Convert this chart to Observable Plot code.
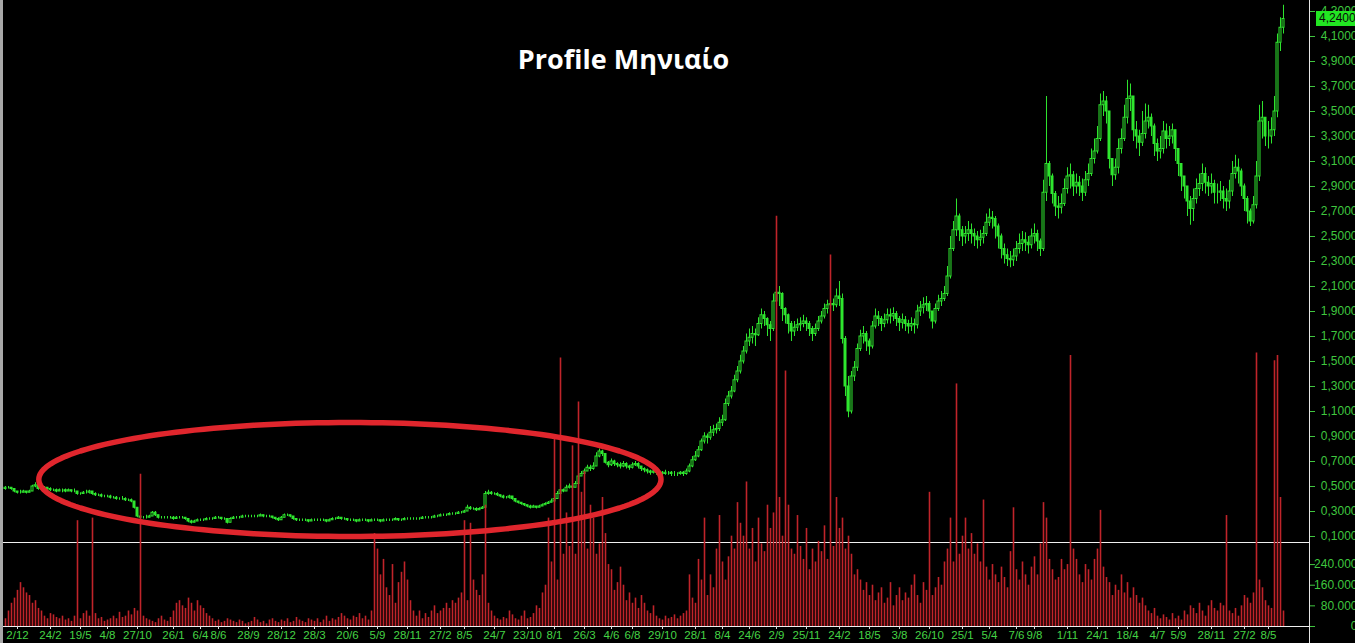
<!DOCTYPE html>
<html><head><meta charset="utf-8">
<script src="https://cdn.jsdelivr.net/npm/d3@7"></script>
<script src="https://cdn.jsdelivr.net/npm/@observablehq/plot@0.6"></script>
<style>
html,body{margin:0;padding:0;background:#000;overflow:hidden}
#wrap{position:relative;width:1355px;height:643px;background:#000;overflow:hidden}
#wrap .layer{position:absolute;left:0;top:0;width:1355px;height:643px}
#wrap svg{display:block;max-width:none}
#vline{position:absolute;left:1309px;top:0;width:1px;height:643px;background:#e6e6e6}
#lstrip{position:absolute;left:0;top:0;width:3px;height:643px;background:#a8a8a8}
#last{position:absolute;left:1316px;width:45px;height:15px;background:#22e622;color:#0a0a0a;font:12px "Liberation Sans",Arial,sans-serif;line-height:15px;padding-left:3px;box-sizing:border-box}
</style></head>
<body><div id="wrap"></div>
<script>
// ---- data (weekly candles, price in EUR; volume in thousands of shares) ----
const title = "Profile Μηνιαίο";
const firstOpen = 0.48;
const close = [
0.49,0.49,0.48,0.46,0.45,0.45,0.46,0.45,0.46,0.50,
0.51,0.48,0.48,0.49,0.48,0.47,0.47,0.46,0.47,0.47,
0.46,0.47,0.46,0.46,0.44,0.44,0.45,0.45,0.46,0.44,
0.43,0.43,0.42,0.42,0.42,0.41,0.41,0.40,0.40,0.40,
0.39,0.39,0.38,0.33,0.26,0.25,0.25,0.25,0.26,0.29,
0.27,0.25,0.25,0.25,0.25,0.25,0.24,0.25,0.25,0.25,
0.24,0.22,0.21,0.22,0.23,0.23,0.23,0.24,0.24,0.24,
0.25,0.25,0.24,0.24,0.21,0.24,0.25,0.25,0.25,0.26,
0.26,0.26,0.26,0.26,0.26,0.27,0.26,0.26,0.26,0.25,
0.24,0.23,0.25,0.27,0.27,0.26,0.24,0.23,0.23,0.23,
0.23,0.22,0.23,0.23,0.23,0.23,0.23,0.22,0.23,0.24,
0.24,0.25,0.24,0.24,0.23,0.23,0.23,0.22,0.23,0.23,
0.23,0.22,0.23,0.23,0.23,0.22,0.23,0.23,0.23,0.23,
0.24,0.23,0.23,0.24,0.24,0.24,0.24,0.24,0.24,0.25,
0.25,0.25,0.25,0.26,0.26,0.27,0.27,0.27,0.28,0.28,
0.28,0.29,0.29,0.30,0.33,0.32,0.32,0.31,0.32,0.33,
0.44,0.45,0.44,0.44,0.43,0.42,0.41,0.41,0.42,0.40,
0.38,0.37,0.36,0.35,0.34,0.33,0.34,0.33,0.34,0.35,
0.36,0.37,0.38,0.40,0.44,0.47,0.46,0.49,0.50,0.49,
0.52,0.58,0.60,0.62,0.65,0.64,0.66,0.74,0.78,0.76,
0.69,0.67,0.70,0.68,0.67,0.66,0.68,0.66,0.65,0.67,
0.68,0.66,0.64,0.63,0.62,0.61,0.62,0.61,0.61,0.60,
0.61,0.61,0.60,0.60,0.60,0.61,0.60,0.62,0.66,0.71,
0.74,0.79,0.86,0.90,0.89,0.93,0.95,0.96,1.01,1.03,
1.16,1.22,1.26,1.35,1.42,1.50,1.58,1.66,1.69,1.72,
1.71,1.80,1.87,1.84,1.79,1.76,1.98,2.05,2.04,1.92,
1.87,1.80,1.74,1.77,1.79,1.80,1.82,1.80,1.76,1.72,
1.76,1.82,1.86,1.92,1.95,1.96,1.95,2.02,2.00,1.68,
1.30,1.10,1.38,1.45,1.60,1.70,1.72,1.66,1.62,1.78,
1.86,1.84,1.80,1.83,1.87,1.86,1.88,1.84,1.81,1.83,
1.80,1.78,1.80,1.79,1.90,1.93,1.95,1.96,1.90,1.82,
1.92,1.98,2.00,2.04,2.18,2.40,2.55,2.66,2.55,2.50,
2.52,2.55,2.52,2.50,2.47,2.49,2.52,2.61,2.65,2.64,
2.58,2.50,2.40,2.35,2.32,2.31,2.34,2.40,2.44,2.47,
2.45,2.43,2.50,2.52,2.46,2.40,2.85,3.08,2.98,2.84,
2.74,2.73,2.76,2.88,2.98,2.99,2.90,2.93,2.90,2.85,
2.95,3.00,3.12,3.18,3.28,3.55,3.58,3.50,3.12,2.99,
3.05,3.20,3.28,3.45,3.60,3.62,3.35,3.30,3.25,3.32,
3.42,3.45,3.38,3.24,3.18,3.20,3.34,3.28,3.30,3.35,
3.20,3.08,2.98,2.90,2.78,2.72,2.80,2.88,2.92,3.00,
2.93,2.90,2.92,2.85,2.85,2.86,2.80,2.78,2.86,3.00,
3.05,3.02,2.90,2.80,2.70,2.62,2.75,2.98,3.42,3.45,
3.30,3.30,3.35,3.50,4.05,4.17,4.24];
const high = [
0.50,0.50,0.49,0.48,0.46,0.47,0.47,0.46,0.47,0.51,
0.53,0.51,0.49,0.50,0.49,0.49,0.48,0.48,0.48,0.48,
0.48,0.48,0.47,0.48,0.46,0.45,0.46,0.47,0.47,0.46,
0.45,0.44,0.44,0.43,0.43,0.43,0.42,0.42,0.41,0.42,
0.41,0.40,0.40,0.38,0.33,0.27,0.26,0.27,0.27,0.30,
0.30,0.27,0.26,0.26,0.26,0.26,0.26,0.26,0.26,0.26,
0.25,0.24,0.23,0.23,0.24,0.24,0.24,0.25,0.25,0.25,
0.26,0.26,0.25,0.25,0.24,0.25,0.26,0.26,0.26,0.27,
0.27,0.27,0.27,0.27,0.27,0.28,0.27,0.27,0.27,0.26,
0.25,0.25,0.26,0.28,0.28,0.27,0.26,0.24,0.24,0.24,
0.24,0.23,0.24,0.24,0.24,0.24,0.24,0.23,0.24,0.25,
0.25,0.26,0.25,0.25,0.24,0.24,0.24,0.23,0.24,0.24,
0.24,0.23,0.24,0.24,0.24,0.23,0.24,0.24,0.24,0.24,
0.25,0.24,0.24,0.25,0.25,0.25,0.25,0.25,0.25,0.26,
0.26,0.26,0.26,0.27,0.27,0.28,0.28,0.28,0.29,0.29,
0.29,0.30,0.30,0.31,0.35,0.34,0.33,0.33,0.33,0.34,
0.46,0.47,0.46,0.45,0.45,0.43,0.43,0.42,0.43,0.42,
0.40,0.38,0.37,0.36,0.35,0.35,0.35,0.34,0.35,0.36,
0.37,0.38,0.40,0.42,0.46,0.48,0.48,0.51,0.52,0.51,
0.54,0.60,0.62,0.64,0.67,0.67,0.69,0.77,0.80,0.79,
0.75,0.70,0.72,0.71,0.69,0.69,0.70,0.69,0.67,0.69,
0.70,0.69,0.66,0.65,0.64,0.63,0.64,0.63,0.62,0.62,
0.63,0.62,0.62,0.62,0.61,0.62,0.62,0.64,0.68,0.74,
0.78,0.82,0.88,0.93,0.92,0.98,0.99,1.00,1.05,1.07,
1.20,1.26,1.30,1.39,1.46,1.55,1.62,1.72,1.76,1.78,
1.76,1.85,1.92,1.90,1.85,1.82,2.04,2.12,2.10,2.05,
1.93,1.88,1.82,1.82,1.84,1.85,1.87,1.85,1.82,1.78,
1.80,1.86,1.90,1.96,1.99,2.02,2.00,2.08,2.14,2.04,
1.70,1.38,1.42,1.50,1.64,1.75,1.78,1.74,1.68,1.82,
1.92,1.90,1.86,1.88,1.92,1.92,1.93,1.90,1.86,1.88,
1.86,1.83,1.85,1.84,1.95,1.98,2.01,2.02,1.98,1.90,
1.96,2.03,2.06,2.10,2.26,2.50,2.62,2.80,2.68,2.58,
2.58,2.62,2.60,2.56,2.54,2.55,2.58,2.68,2.72,2.70,
2.66,2.60,2.52,2.44,2.40,2.38,2.40,2.46,2.52,2.54,
2.53,2.50,2.56,2.60,2.55,2.48,2.95,3.62,3.10,3.00,
2.86,2.82,2.84,2.96,3.05,3.08,3.02,3.00,2.98,2.96,
3.02,3.08,3.20,3.28,3.38,3.64,3.66,3.62,3.50,3.10,
3.12,3.28,3.36,3.55,3.75,3.72,3.62,3.42,3.35,3.50,
3.56,3.55,3.48,3.40,3.28,3.30,3.42,3.40,3.38,3.40,
3.30,3.16,3.06,2.98,2.88,2.82,2.88,2.96,3.00,3.08,
3.05,2.98,3.00,2.95,2.92,2.94,2.90,2.88,2.95,3.10,
3.15,3.12,3.04,2.92,2.82,2.72,2.82,3.10,3.55,3.58,
3.44,3.42,3.45,3.62,4.12,4.25,4.35];
const low = [
0.47,0.48,0.47,0.45,0.44,0.44,0.45,0.44,0.45,0.46,
0.49,0.47,0.47,0.47,0.47,0.46,0.46,0.45,0.46,0.45,
0.45,0.46,0.45,0.45,0.43,0.43,0.44,0.44,0.44,0.43,
0.42,0.42,0.41,0.41,0.41,0.40,0.40,0.39,0.39,0.39,
0.38,0.38,0.37,0.32,0.25,0.24,0.24,0.24,0.25,0.26,
0.26,0.24,0.24,0.24,0.24,0.24,0.23,0.24,0.24,0.24,
0.23,0.21,0.20,0.21,0.22,0.22,0.22,0.23,0.23,0.23,
0.24,0.24,0.23,0.23,0.20,0.21,0.24,0.24,0.24,0.25,
0.25,0.25,0.25,0.25,0.25,0.26,0.25,0.25,0.25,0.24,
0.23,0.22,0.23,0.25,0.26,0.25,0.23,0.22,0.22,0.22,
0.22,0.21,0.22,0.22,0.22,0.22,0.22,0.21,0.22,0.23,
0.23,0.24,0.23,0.23,0.22,0.22,0.22,0.21,0.22,0.22,
0.22,0.21,0.22,0.22,0.22,0.21,0.22,0.22,0.22,0.22,
0.23,0.22,0.22,0.23,0.23,0.23,0.23,0.23,0.23,0.24,
0.24,0.24,0.24,0.25,0.25,0.26,0.26,0.26,0.27,0.27,
0.27,0.28,0.28,0.29,0.30,0.31,0.31,0.30,0.31,0.32,
0.33,0.43,0.43,0.43,0.42,0.41,0.40,0.40,0.40,0.39,
0.37,0.36,0.35,0.34,0.33,0.32,0.33,0.32,0.33,0.34,
0.35,0.36,0.37,0.38,0.40,0.44,0.45,0.46,0.48,0.48,
0.49,0.52,0.58,0.60,0.62,0.62,0.63,0.66,0.73,0.74,
0.68,0.65,0.66,0.66,0.65,0.64,0.65,0.64,0.63,0.64,
0.66,0.64,0.62,0.61,0.60,0.59,0.60,0.59,0.59,0.58,
0.59,0.59,0.58,0.58,0.58,0.59,0.58,0.59,0.61,0.65,
0.70,0.73,0.78,0.84,0.84,0.87,0.90,0.92,0.94,0.98,
1.02,1.14,1.20,1.25,1.33,1.40,1.48,1.56,1.62,1.64,
1.62,1.70,1.76,1.78,1.70,1.66,1.74,1.96,1.94,1.82,
1.80,1.72,1.66,1.70,1.74,1.74,1.77,1.74,1.70,1.66,
1.70,1.74,1.80,1.84,1.88,1.90,1.90,1.93,1.94,1.64,
1.22,1.05,1.08,1.34,1.42,1.58,1.64,1.58,1.55,1.60,
1.76,1.78,1.74,1.77,1.80,1.80,1.82,1.78,1.74,1.76,
1.74,1.72,1.74,1.72,1.76,1.86,1.88,1.90,1.84,1.76,
1.80,1.90,1.94,1.98,2.02,2.16,2.38,2.50,2.46,2.42,
2.44,2.46,2.44,2.42,2.40,2.42,2.44,2.50,2.58,2.56,
2.48,2.40,2.32,2.28,2.26,2.25,2.26,2.30,2.36,2.38,
2.38,2.36,2.40,2.44,2.38,2.34,2.38,2.78,2.90,2.76,
2.66,2.64,2.68,2.74,2.84,2.88,2.82,2.84,2.82,2.78,
2.82,2.90,2.98,3.08,3.16,3.26,3.46,3.40,3.04,2.90,
2.95,3.00,3.16,3.26,3.40,3.50,3.26,3.20,3.14,3.22,
3.28,3.36,3.30,3.14,3.10,3.12,3.16,3.20,3.22,3.24,
3.10,2.98,2.86,2.80,2.66,2.59,2.62,2.76,2.82,2.86,
2.84,2.82,2.84,2.76,2.76,2.78,2.72,2.70,2.72,2.82,
2.96,2.92,2.82,2.70,2.60,2.58,2.60,2.72,2.94,3.28,
3.22,3.20,3.24,3.30,3.45,3.98,4.12];
const volume = [
30,60,90,110,140,
170,150,130,120,90,100,70,60,
40,30,50,45,35,30,40,25,
30,20,40,410,30,50,60,
40,420,50,30,35,20,25,30,
40,30,55,35,40,60,45,70,60,
590,40,30,25,20,15,30,40,25,20,35,
60,90,100,80,70,110,90,60,100,80,70,
50,40,30,20,25,15,20,30,25,
20,15,25,20,10,15,20,35,25,15,20,10,25,30,20,
15,25,20,30,15,20,35,25,20,15,30,25,20,30,15,25,40,20,30,25,35,50,40,
30,25,40,35,50,30,40,25,60,360,300,
200,260,150,120,240,90,170,210,250,180,100,60,
40,60,30,50,35,60,80,50,60,70,90,
70,100,90,110,130,410,100,400,180,140,120,200,
470,90,60,40,30,25,35,30,60,45,30,
25,40,60,30,35,50,80,70,130,160,
420,250,730,180,1040,280,440,310,700,280,
870,520,600,300,470,420,280,320,500,360,
240,220,140,170,230,160,100,130,90,110,70,120,
90,60,50,80,40,30,25,40,30,35,45,30,40,50,
60,200,110,90,260,180,420,120,200,150,300,430,250,180,
270,350,300,480,400,350,560,300,380,250,420,320,290,470,380,
440,1590,500,350,990,470,300,280,430,310,260,380,220,300,250,
330,290,390,260,1440,310,500,380,420,300,350,280,200,220,180,
140,170,120,160,100,130,150,90,110,170,80,120,150,100,130,
110,160,200,120,90,170,140,520,120,150,190,160,250,300,420,
250,940,280,350,420,300,360,280,320,250,490,230,180,240,200,
170,230,190,150,290,460,220,180,250,200,160,230,270,200,320,
480,420,260,220,180,190,260,220,240,1050,300,260,200,170,240,
220,180,260,300,450,230,190,170,120,160,140,200,130,170,110,
150,120,90,110,80,60,50,70,40,30,45,35,25,50,30,
40,25,60,45,80,70,50,90,60,40,80,100,70,60,90,
80,430,60,50,70,40,80,120,110,90,
130,1060,180,150,100,80,70,1030,1050,500,60];
// x-axis date ticks: candle index and label
const tickIndex = [4,15,25,34,44,56,65,71,81,92,103,114,124,134,145,153,163,174,183,193,202,209,219,230,239,248,257,267,278,288,298,308,319,328,337,343,354,364,374,384,391,402,413,421];
const tickLabels = ["2/12","24/2","19/5","4/8","27/10","26/1","6/4","8/6","28/9","28/12","28/3","20/6","5/9","28/11","27/2","8/5","24/7","23/10","8/1","26/3","4/6","6/8","29/10","28/1","8/4","24/6","2/9","25/11","24/2","18/5","3/8","26/10","25/1","5/4","7/6","9/8","1/11","24/1","18/4","4/7","5/9","28/11","27/2","8/5"];
const priceTicks = [0.1,0.3,0.5,0.7,0.9,1.1,1.3,1.5,1.7,1.9,2.1,2.3,2.5,2.7,2.9,3.1,3.3,3.5,3.7,3.9,4.1,4.3];
const volumeTicks = [0,80,160,240];
// red ellipse annotation (candle index / price units)
const ellipse = {cx: 114.8, rx: 103.7, cy: 0.556, ry: 0.456};

// ---- drawing ----
const GREEN = "#2fe62f", AXIS_GREEN = "#3fc73f", XLAB_GREEN = "#45d445", RED = "#c0242a";
const candles = close.map((c, i) => {
  const o = i ? close[i - 1] : firstOpen;
  return {i, o, c, h: Math.max(high[i], o, c), l: Math.min(low[i], o, c)};
});
const labelOf = new Map(tickIndex.map((t, k) => [t, tickLabels[k]]));
const fmtPrice = d => d.toFixed(4).replace(".", ",");
const base = {
  width: 1355, height: 643, marginLeft: 3, marginRight: 46, marginTop: 0,
  style: {background: "transparent", fontFamily: "'Liberation Sans', Arial, sans-serif", fontSize: "12px", color: AXIS_GREEN}
};
const xDomain = [-0.667, 434.667];
const priceDomain = [0.052, 4.388];

const priceChart = Plot.plot({
  ...base, marginBottom: 101,
  x: {domain: xDomain, axis: null},
  y: {domain: priceDomain},
  marks: [
    Plot.ruleX(candles, {x: "i", y1: "l", y2: "h", stroke: GREEN, strokeWidth: 1}),
    Plot.rect(candles.filter(d => d.c < d.o), {x1: d => d.i - 0.33, x2: d => d.i + 0.33, y1: "o", y2: "c", fill: GREEN, stroke: GREEN, strokeWidth: 1}),
    Plot.rect(candles.filter(d => d.c >= d.o), {x1: d => d.i - 0.33, x2: d => d.i + 0.33, y1: "o", y2: "c", fill: "#000", stroke: GREEN, strokeWidth: 1}),
    Plot.ruleY([0.052], {stroke: "#f0f0f0", strokeWidth: 1}),
    Plot.axisY(priceTicks, {anchor: "right", label: null, tickSize: 5, tickPadding: 43, textAnchor: "end", tickFormat: fmtPrice, color: AXIS_GREEN, fontSize: 12})
  ]
});

const volumeChart = Plot.plot({
  ...base, marginBottom: 17,
  x: {domain: xDomain},
  y: {domain: [0, 2425.8]},
  marks: [
    Plot.ruleX(volume, {x: (d, i) => i, y1: 0, y2: d => d, stroke: RED, strokeWidth: 1.6}),
    Plot.ruleY([0], {stroke: "#f0f0f0", strokeWidth: 1}),
    Plot.axisY(volumeTicks, {anchor: "right", label: null, tickSize: 5, tickPadding: 43, textAnchor: "end", tickFormat: d => d ? d + ".000" : "0", color: AXIS_GREEN, fontSize: 12}),
    Plot.axisX(tickIndex, {anchor: "bottom", label: null, tickSize: 3, tickFormat: () => "", color: "#dddddd"}),
    Plot.axisX(tickIndex, {anchor: "bottom", label: null, tickSize: 0, tickPadding: 4, tickFormat: d => labelOf.get(d), color: XLAB_GREEN, fontSize: 11.5})
  ]
});

const ellPts = d3.range(0, 361, 2).map(a => ({
  x: ellipse.cx + ellipse.rx * Math.cos(a * Math.PI / 180),
  y: ellipse.cy + ellipse.ry * Math.sin(a * Math.PI / 180)
}));
const overlayChart = Plot.plot({
  ...base, marginBottom: 101,
  x: {domain: xDomain, axis: null},
  y: {domain: priceDomain, axis: null},
  marks: [
    Plot.line(ellPts, {x: "x", y: "y", stroke: "#e0262d", strokeWidth: 5.5}),
    Plot.text([title], {frameAnchor: "top", dx: -33, dy: 60, lineAnchor: "middle", fill: "white", fontSize: 27, fontWeight: "bold", fontFamily: "'Open Sans', sans-serif"})
  ]
});

const wrap = document.getElementById("wrap");
for (const chart of [priceChart, volumeChart, overlayChart]) {
  const d = document.createElement("div");
  d.className = "layer";
  d.appendChild(chart);
  wrap.appendChild(d);
}
const strip = document.createElement("div"); strip.id = "lstrip"; wrap.appendChild(strip);
const vline = document.createElement("div"); vline.id = "vline"; wrap.appendChild(vline);
const last = document.createElement("div");
last.id = "last";
last.textContent = fmtPrice(close[close.length - 1]);
last.style.top = (priceChart.scale("y").apply(close[close.length - 1]) - 8) + "px";
wrap.appendChild(last);
</script></body></html>
